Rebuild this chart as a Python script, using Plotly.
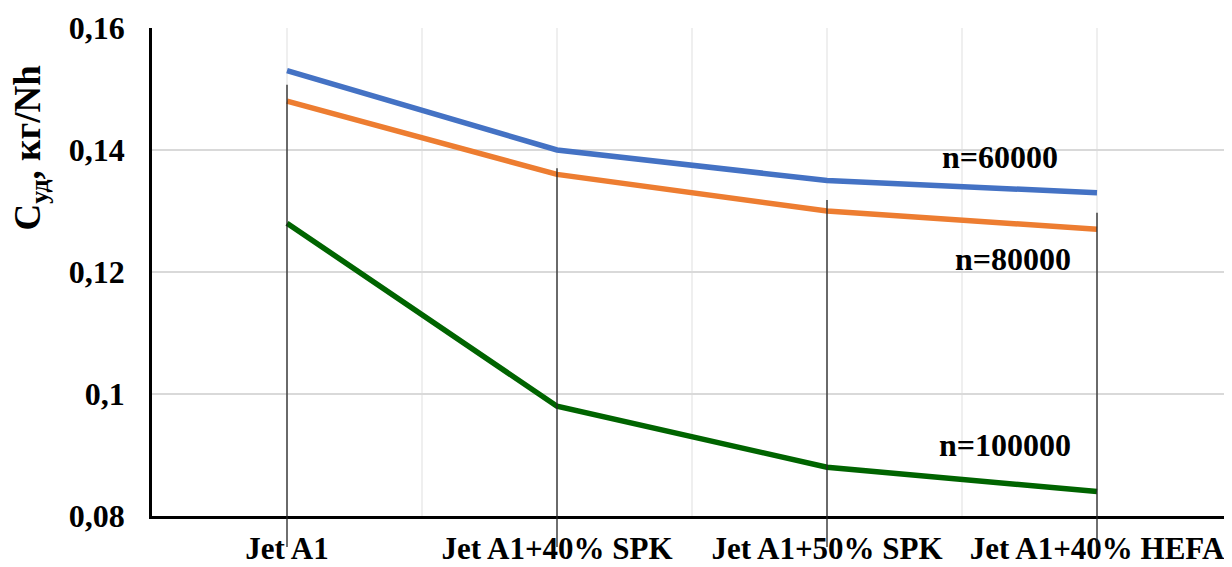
import plotly.graph_objects as go

categories = ["Jet A1", "Jet A1+40% SPK", "Jet A1+50% SPK", "Jet A1+40% HEFA"]
series_names = ["n=60000", "n=80000", "n=100000"]
n60000 = [0.153, 0.140, 0.135, 0.133]
n80000 = [0.148, 0.136, 0.130, 0.127]
n100000 = [0.128, 0.098, 0.088, 0.084]
drop_top = [0.1507, 0.1370, 0.1318, 0.1297]
drop_bottom = 0.0749
y_tickvals = [0.08, 0.10, 0.12, 0.14, 0.16]
y_ticktext = ["0,08", "0,1", "0,12", "0,14", "0,16"]
label_pos = [(2.64, 0.1388), (2.69, 0.1222), (2.66, 0.0916)]

colors = ["#4472C4", "#ED7D31", "#006400"]
FONT = "Liberation Serif, Times New Roman, serif"

x_idx = list(range(len(categories)))
y_min, y_max = 0.08, 0.16
x_min, x_max = -0.5, len(categories) - 0.5

fig = go.Figure()
for name, vals, col in zip(series_names, [n60000, n80000, n100000], colors):
    fig.add_trace(go.Scatter(x=x_idx, y=vals, mode="lines", name=name,
                             line=dict(color=col, width=5.5), showlegend=False))

# drop lines (paper coords computed from data)
shapes = []
for i, top in zip(x_idx, drop_top):
    px = (i - x_min) / (x_max - x_min)
    shapes.append(dict(type="line", xref="paper", yref="paper",
                       x0=px, x1=px,
                       y0=(top - y_min) / (y_max - y_min),
                       y1=(drop_bottom - y_min) / (y_max - y_min),
                       line=dict(color="#222222", width=1.3), layer="above"))

annotations = []
for name, (ax, ay) in zip(series_names, label_pos):
    annotations.append(dict(x=ax, y=ay, xref="x", yref="y", text=name, showarrow=False,
                            xanchor="center", yanchor="middle",
                            font=dict(family=FONT, size=32, color="black", weight="bold")))
annotations.append(dict(x=0, y=0.755, xref="paper", yref="paper", xshift=-121,
                        xanchor="center", yanchor="middle",
                        text="<b>C<sub>уд</sub>, кг/Nh</b>", textangle=-90, showarrow=False,
                        font=dict(family=FONT, size=37, color="black")))

# page body has an 8px margin, so the figure is offset by 8px right/down
fig.update_layout(
    width=1224, height=559,
    margin=dict(l=144, r=0, t=20, b=51, autoexpand=False),
    plot_bgcolor="white", paper_bgcolor="white",
    shapes=shapes, annotations=annotations,
    font=dict(family=FONT, size=30, color="black", weight="bold"),
)
fig.update_xaxes(range=[x_min, x_max], tickvals=x_idx, ticktext=categories,
                 showgrid=True, gridcolor="#efefef", gridwidth=1.5,
                 minor=dict(dtick=0.5, tick0=-0.5, showgrid=True, gridcolor="#efefef", gridwidth=1.5),
                 showline=True, linecolor="black", linewidth=2.5, zeroline=False,
                 automargin=False, ticks="", ticklabelstandoff=3,
                 tickfont=dict(family=FONT, size=31, color="black", weight="bold"))
fig.update_yaxes(range=[y_min, y_max], tickvals=y_tickvals, ticktext=y_ticktext,
                 showgrid=True, gridcolor="#d9d9d9", gridwidth=1.5,
                 showline=True, linecolor="black", linewidth=2.5, zeroline=False,
                 automargin=False, ticks="", ticklabelstandoff=18,
                 tickfont=dict(family=FONT, size=32, color="black", weight="bold"))

fig.write_html("out.html")
